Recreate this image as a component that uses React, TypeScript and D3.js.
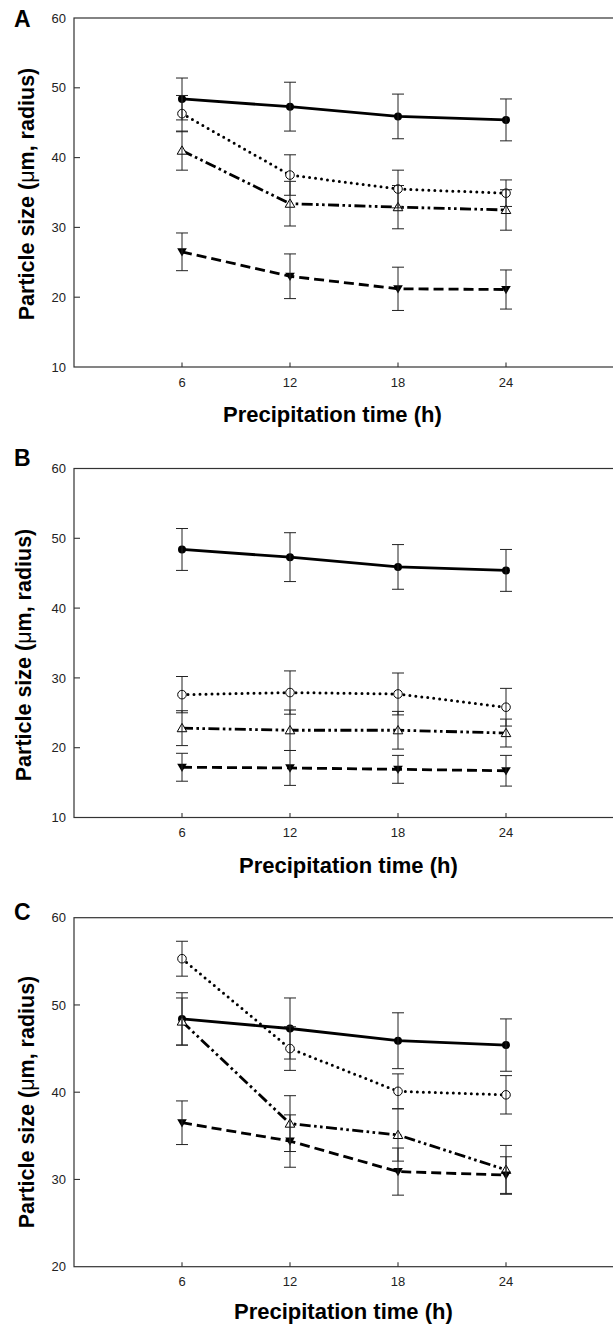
import React from 'react';
import * as d3 from 'd3';

// ---- data ----
const timePoints = [6, 12, 18, 24];
const xTickValues = [6, 12, 18, 24];
const yTicksAB = [10, 20, 30, 40, 50, 60];
const yTicksC = [20, 30, 40, 50, 60];
const panelLetters = ['A', 'B', 'C'];

// Panel A
const aFilledCircle = [48.4, 47.3, 45.9, 45.4];
const aFilledCircleErr = [3.0, 3.5, 3.2, 3.0];
const aOpenCircle = [46.3, 37.5, 35.5, 34.9];
const aOpenCircleErr = [2.6, 2.9, 2.7, 1.9];
const aOpenTriangle = [41.0, 33.4, 32.9, 32.5];
const aOpenTriangleErr = [2.8, 3.2, 3.1, 2.9];
const aFilledTriangle = [26.5, 23.0, 21.2, 21.1];
const aFilledTriangleErr = [2.7, 3.2, 3.1, 2.8];

// Panel B
const bFilledCircle = [48.4, 47.3, 45.9, 45.4];
const bFilledCircleErr = [3.0, 3.5, 3.2, 3.0];
const bOpenCircle = [27.6, 27.9, 27.7, 25.8];
const bOpenCircleErr = [2.6, 3.1, 3.0, 2.7];
const bOpenTriangle = [22.8, 22.5, 22.5, 22.1];
const bOpenTriangleErr = [2.5, 2.9, 2.7, 2.0];
const bFilledTriangle = [17.2, 17.1, 16.9, 16.7];
const bFilledTriangleErr = [2.0, 2.5, 2.0, 2.2];

// Panel C
const cFilledCircle = [48.4, 47.3, 45.9, 45.4];
const cFilledCircleErr = [3.0, 3.5, 3.2, 3.0];
const cOpenCircle = [55.3, 45.0, 40.1, 39.7];
const cOpenCircleErr = [2.0, 2.5, 2.0, 2.2];
const cOpenTriangle = [48.1, 36.4, 35.1, 31.1];
const cOpenTriangleErr = [2.7, 3.2, 3.0, 2.8];
const cFilledTriangle = [36.5, 34.4, 30.9, 30.5];
const cFilledTriangleErr = [2.5, 3.0, 2.7, 2.1];

const xTitle = 'Precipitation time (h)';

type Series = { values: number[]; errs: number[]; line: string; marker: string };

const panelsData: { yDomain: [number, number]; yTicks: number[]; series: Series[] }[] = [
  {
    yDomain: [10, 60],
    yTicks: yTicksAB,
    series: [
      { values: aFilledCircle, errs: aFilledCircleErr, line: 'solid', marker: 'filledCircle' },
      { values: aOpenCircle, errs: aOpenCircleErr, line: 'dotted', marker: 'openCircle' },
      { values: aOpenTriangle, errs: aOpenTriangleErr, line: 'dashdotdot', marker: 'openTriangle' },
      { values: aFilledTriangle, errs: aFilledTriangleErr, line: 'dashed', marker: 'filledTriangleDown' },
    ],
  },
  {
    yDomain: [10, 60],
    yTicks: yTicksAB,
    series: [
      { values: bFilledCircle, errs: bFilledCircleErr, line: 'solid', marker: 'filledCircle' },
      { values: bOpenCircle, errs: bOpenCircleErr, line: 'dotted', marker: 'openCircle' },
      { values: bOpenTriangle, errs: bOpenTriangleErr, line: 'dashdotdot', marker: 'openTriangle' },
      { values: bFilledTriangle, errs: bFilledTriangleErr, line: 'dashed', marker: 'filledTriangleDown' },
    ],
  },
  {
    yDomain: [20, 60],
    yTicks: yTicksC,
    series: [
      { values: cFilledCircle, errs: cFilledCircleErr, line: 'solid', marker: 'filledCircle' },
      { values: cOpenCircle, errs: cOpenCircleErr, line: 'dotted', marker: 'openCircle' },
      { values: cOpenTriangle, errs: cOpenTriangleErr, line: 'dashdotdot', marker: 'openTriangle' },
      { values: cFilledTriangle, errs: cFilledTriangleErr, line: 'dashed', marker: 'filledTriangleDown' },
    ],
  },
];

// ---- layout ----
const W = 613;
const H = 1325;
const LEFT = 74;
const RIGHT = 614;
const PLOT_H = 349;
const panelTops = [18, 468.5, 917.7];
const letterBaselines = [27, 466, 920];
const xTitleStarts = [223, 239, 234];
const xTitleBaselines = [422, 872.5, 1318.5];
const yTitleMid = [194, 655, 1102];
const yTitleX = [34, 31, 34];

const FONT = '"Liberation Sans", Arial, Helvetica, sans-serif';

const lineStyles: Record<string, { dash: string; cap: string; width: number }> = {
  solid: { dash: '', cap: 'butt', width: 2.8 },
  dotted: { dash: '0 6', cap: 'round', width: 3 },
  dashdotdot: { dash: '11 3.4 2.6 3.4 2.6 3.4', cap: 'butt', width: 2.8 },
  dashed: { dash: '10 5', cap: 'butt', width: 2.8 },
};

const triUp = d3.symbol().type(d3.symbolTriangle).size(40)() as string;

function Marker({ type, x, y }: { type: string; x: number; y: number }) {
  if (type === 'filledCircle') return <circle cx={x} cy={y} r={4} fill="#000" />;
  if (type === 'openCircle')
    return <circle cx={x} cy={y} r={4.3} fill="#fff" stroke="#000" strokeWidth={1} />;
  if (type === 'openTriangle')
    return <path d={triUp} transform={`translate(${x},${y + 0.8})`} fill="#fff" stroke="#000" strokeWidth={1} />;
  return <path d={triUp} transform={`translate(${x},${y - 0.8}) rotate(180)`} fill="#000" />;
}

function Panel({ idx }: { idx: number }) {
  const p = panelsData[idx];
  const top = panelTops[idx];
  const bottom = top + PLOT_H;
  const x = d3.scaleLinear().domain([0, 30]).range([LEFT, RIGHT]);
  const y = d3.scaleLinear().domain(p.yDomain).range([bottom, top]);
  const line = d3
    .line<number>()
    .x((_, i) => x(timePoints[i]))
    .y((d) => y(d));
  return (
    <g>
      <text x={14} y={letterBaselines[idx]} fontFamily={FONT} fontWeight="bold" fontSize={23} fill="#000">
        {panelLetters[idx]}
      </text>
      {/* frame */}
      <rect x={LEFT} y={top} width={RIGHT - LEFT} height={PLOT_H} fill="none" stroke="#333" strokeWidth={1.2} />
      {/* y ticks */}
      {p.yTicks.map((t) => (
        <g key={'y' + t}>
          {t !== p.yDomain[0] && t !== p.yDomain[1] && (
            <line x1={LEFT} x2={LEFT + 6} y1={y(t)} y2={y(t)} stroke="#333" strokeWidth={1.1} />
          )}
          <text x={66} y={y(t)} dy="0.36em" textAnchor="end" fontFamily={FONT} fontSize={13} fill="#222">
            {t}
          </text>
        </g>
      ))}
      {/* x ticks */}
      {xTickValues.map((t) => (
        <g key={'x' + t}>
          <line x1={x(t)} x2={x(t)} y1={bottom} y2={bottom - 4.5} stroke="#333" strokeWidth={1.1} />
          <text x={x(t)} y={bottom + 19.5} textAnchor="middle" fontFamily={FONT} fontSize={13} fill="#222">
            {t}
          </text>
        </g>
      ))}
      {/* lines */}
      {p.series.map((s, si) => {
        const st = lineStyles[s.line];
        return (
          <path
            key={'l' + si}
            d={line(s.values) as string}
            fill="none"
            stroke="#000"
            strokeWidth={st.width}
            strokeDasharray={st.dash || undefined}
            strokeLinecap={st.cap as any}
          />
        );
      })}
      {/* markers */}
      {p.series.map((s, si) =>
        s.values.map((v, i) => <Marker key={'m' + si + '-' + i} type={s.marker} x={x(timePoints[i])} y={y(v)} />)
      )}
      {/* error bars */}
      {p.series.map((s, si) =>
        s.values.map((v, i) => {
          const cx = x(timePoints[i]);
          const y1 = y(v + s.errs[i]);
          const y2 = y(v - s.errs[i]);
          return (
            <g key={'e' + si + '-' + i} stroke="#222" strokeWidth={1}>
              <line x1={cx} x2={cx} y1={y1} y2={y2} />
              <line x1={cx - 6} x2={cx + 6} y1={y1} y2={y1} />
              <line x1={cx - 6} x2={cx + 6} y1={y2} y2={y2} />
            </g>
          );
        })
      )}
      {/* axis titles */}
      <text x={xTitleStarts[idx]} y={xTitleBaselines[idx]} fontFamily={FONT} fontWeight="bold" fontSize={22} fill="#000">
        {xTitle}
      </text>
      <text
        transform={`translate(${yTitleX[idx]},${yTitleMid[idx]}) rotate(-90)`}
        textAnchor="middle"
        fontFamily={FONT}
        fontWeight="bold"
        fontSize={21.5}
        fill="#000"
      >
        Particle size (<tspan fontWeight="normal">μ</tspan>m, radius)
      </text>
    </g>
  );
}

export default function App() {
  return (
    <svg
      width={W}
      height={H}
      viewBox={`0 0 ${W} ${H}`}
      style={{ position: 'absolute', left: 0, top: 0, background: '#fff' }}
    >
      <rect x={0} y={0} width={W} height={H} fill="#fff" />
      {panelsData.map((_, i) => (
        <Panel key={i} idx={i} />
      ))}
    </svg>
  );
}
